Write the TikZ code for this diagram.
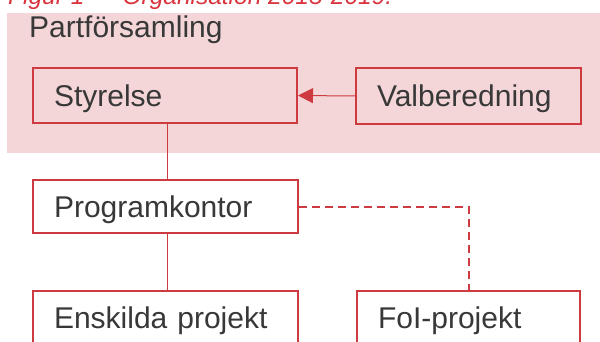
\documentclass[tikz,border=0pt]{standalone}
\usepackage{fontspec}
\setmainfont{Liberation Sans}
\usetikzlibrary{arrows.meta}
\definecolor{boxred}{HTML}{CD3A40}
\definecolor{pinkbg}{HTML}{F4D6D8}
\definecolor{txtgray}{HTML}{383838}
\definecolor{titlered}{HTML}{D8343E}
\tikzset{
  orgbox/.style={draw=boxred, line width=2pt, rectangle, inner xsep=21pt, inner ysep=0pt,
    text height=21.5pt, text depth=0pt, align=left, text=txtgray,
    font=\fontsize{30}{36}\selectfont},
  link/.style={draw=boxred, line width=1pt},
  dlink/.style={draw=boxred, line width=2pt, dash pattern=on 8pt off 5pt},
}
\begin{document}
\begin{tikzpicture}[x=1pt,y=-1pt]
\useasboundingbox (0,0) rectangle (600,342);
\clip (0,0) rectangle (600,342);
\fill[pinkbg] (7,13) rectangle (610,153);
\node[anchor=base west, font=\fontsize{24.5}{30}\selectfont\itshape, text=titlered, inner sep=0pt] (title) at (8,5) {Figur 1 — Organisation 2015-2019.};
\node[anchor=base west, font=\fontsize{30}{36}\selectfont, text=txtgray, inner sep=0pt] (pf) at (29,38) {Partförsamling};
\node[orgbox, text width=222pt, minimum height=55pt] (s) at (165,95.5) {Styrelse};
\node[orgbox, text width=183pt, minimum height=56pt] (v) at (468.5,96) {Valberedning};
\node[orgbox, text width=223pt, minimum height=53pt, fill=white] (p) at (165.5,206.5) {Programkontor};
\node[orgbox, text width=223pt, minimum height=54pt, fill=white] (e) at (165.5,318) {Enskilda projekt};
\node[orgbox, text width=181pt, minimum height=54pt, fill=white] (f) at (468.5,318) {FoI-projekt};
\draw[link, -{Triangle[length=15pt,width=15pt]}] (v.west) -- (s.east);
\draw[link] ([xshift=2pt]s.south) -- ([xshift=2pt]s.south |- p.north);
\draw[link] ([xshift=1.5pt]p.south) -- ([xshift=1.5pt]p.south |- e.north);
\draw[dlink] (p.east) -| (f.north);
\end{tikzpicture}
\end{document}
